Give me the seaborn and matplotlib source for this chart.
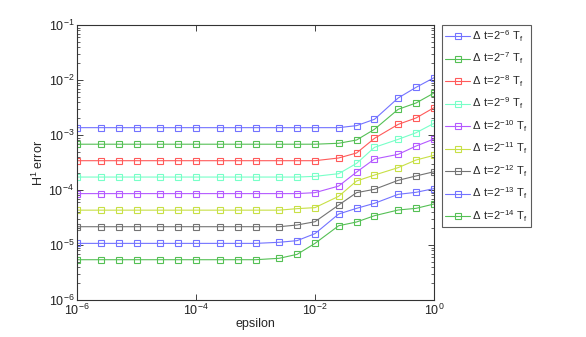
import matplotlib
matplotlib.use('Agg')
import matplotlib.pyplot as plt
import seaborn as sns
import numpy as np
import pandas as pd

# epsilon values (x axis)
eps = [1e-6, 2.5e-6, 5e-6, 1e-5, 2.5e-5, 5e-5, 1e-4, 2.5e-4, 5e-4,
       1e-3, 2.5e-3, 5e-3, 1e-2, 2.5e-2, 5e-2, 1e-1, 2.5e-1, 5e-1, 1.0]

# H1 error for each time step
err_m6 = [1.36e-3, 1.36e-3, 1.36e-3, 1.36e-3, 1.36e-3, 1.36e-3, 1.36e-3, 1.36e-3, 1.36e-3,
          1.36e-3, 1.36e-3, 1.36e-3, 1.36e-3, 1.36e-3, 1.48e-3, 1.93e-3, 4.71e-3, 7.36e-3, 1.10e-2]
err_m7 = [6.8e-4, 6.8e-4, 6.8e-4, 6.8e-4, 6.8e-4, 6.8e-4, 6.8e-4, 6.8e-4, 6.8e-4,
          6.8e-4, 6.8e-4, 6.8e-4, 6.8e-4, 7.07e-4, 8.11e-4, 1.27e-3, 2.93e-3, 3.82e-3, 5.8e-3]
err_m8 = [3.41e-4, 3.41e-4, 3.41e-4, 3.41e-4, 3.41e-4, 3.41e-4, 3.41e-4, 3.41e-4, 3.41e-4,
          3.41e-4, 3.41e-4, 3.41e-4, 3.41e-4, 3.82e-4, 4.71e-4, 8.7e-4, 1.56e-3, 2.04e-3, 3.14e-3]
err_m9 = [1.72e-4, 1.72e-4, 1.72e-4, 1.72e-4, 1.72e-4, 1.72e-4, 1.72e-4, 1.72e-4, 1.72e-4,
          1.72e-4, 1.72e-4, 1.72e-4, 1.77e-4, 1.98e-4, 3.05e-4, 5.97e-4, 8.34e-4, 1.10e-3, 1.63e-3]
err_m10 = [8.6e-5, 8.6e-5, 8.6e-5, 8.6e-5, 8.6e-5, 8.6e-5, 8.6e-5, 8.6e-5, 8.6e-5,
           8.6e-5, 8.6e-5, 8.6e-5, 8.95e-5, 1.18e-4, 2.12e-4, 3.66e-4, 4.45e-4, 6.3e-4, 8.46e-4]
err_m11 = [4.3e-5, 4.3e-5, 4.3e-5, 4.3e-5, 4.3e-5, 4.3e-5, 4.3e-5, 4.3e-5, 4.3e-5,
           4.3e-5, 4.3e-5, 4.58e-5, 4.78e-5, 7.68e-5, 1.46e-4, 1.87e-4, 2.55e-4, 3.51e-4, 4.27e-4]
err_m12 = [2.15e-5, 2.15e-5, 2.15e-5, 2.15e-5, 2.15e-5, 2.15e-5, 2.15e-5, 2.15e-5, 2.15e-5,
           2.15e-5, 2.15e-5, 2.31e-5, 2.65e-5, 5.33e-5, 8.95e-5, 1.03e-4, 1.50e-4, 1.80e-4, 2.15e-4]
err_m13 = [1.07e-5, 1.07e-5, 1.07e-5, 1.07e-5, 1.07e-5, 1.07e-5, 1.07e-5, 1.07e-5, 1.07e-5,
           1.07e-5, 1.12e-5, 1.2e-5, 1.61e-5, 3.66e-5, 4.64e-5, 5.73e-5, 8.34e-5, 9.08e-5, 1.06e-4]
err_m14 = [5.4e-6, 5.4e-6, 5.4e-6, 5.4e-6, 5.4e-6, 5.4e-6, 5.4e-6, 5.4e-6, 5.4e-6,
           5.4e-6, 5.73e-6, 6.76e-6, 1.07e-5, 2.24e-5, 2.62e-5, 3.41e-5, 4.33e-5, 4.64e-5, 5.56e-5]

exponents = [6, 7, 8, 9, 10, 11, 12, 13, 14]
series = [err_m6, err_m7, err_m8, err_m9, err_m10, err_m11, err_m12, err_m13, err_m14]
colors = ['#7373ff', '#55c055', '#ff5a5a', '#78ffc8', '#b45aff',
          '#c8e046', '#737373', '#7373ff', '#55c055']

sns.set_style('ticks')
plt.rcParams['font.family'] = ['Liberation Sans', 'DejaVu Sans']
plt.rcParams['mathtext.default'] = 'regular'
plt.rcParams['xtick.direction'] = 'in'
plt.rcParams['ytick.direction'] = 'in'

fig = plt.figure(figsize=(5.86, 3.37), dpi=100)
ax = fig.add_axes([77 / 586, 37 / 337, 357 / 586, 275 / 337])

for exp, vals, col in zip(exponents, series, colors):
    df = pd.DataFrame({'epsilon': eps, 'err': vals})
    sns.lineplot(data=df, x='epsilon', y='err', ax=ax, color=col,
                 marker='s', markersize=4, markerfacecolor='none',
                 markeredgecolor=col, markeredgewidth=0.8, linewidth=0.8,
                 label=r'$\Delta\ t\!=\!2^{-%d}\ T_f$' % exp)

ax.set_xscale('log')
ax.set_yscale('log')
ax.set_xlim(1e-6, 1)
ax.set_ylim(1e-6, 1e-1)
ax.set_xticks([1e-6, 1e-4, 1e-2, 1])
ax.xaxis.set_minor_locator(matplotlib.ticker.NullLocator())
ax.tick_params(which='both', top=True, right=True, labelsize=9, colors='#222222')
ax.tick_params(axis='x', pad=2)
ax.tick_params(axis='y', pad=2)
ax.tick_params(which='major', length=4, width=0.6)
ax.tick_params(which='minor', length=2, width=0.5)
for sp in ax.spines.values():
    sp.set_linewidth(0.8)
    sp.set_color('#333333')

ax.set_xlabel('epsilon', fontsize=9, labelpad=0)
ax.set_ylabel(r'$H^1$ error', fontsize=9, labelpad=2)

handles, labels = ax.get_legend_handles_labels()
ax.get_legend().remove()
leg = fig.legend(handles, labels, loc='upper left',
                 bbox_to_anchor=(442 / 586, 1 - 25 / 337),
                 fontsize=8, frameon=True, fancybox=False,
                 handlelength=2.2, handletextpad=0.2, labelspacing=0.62,
                 borderpad=0.3, borderaxespad=0)
leg.get_frame().set_edgecolor('#333333')
leg.get_frame().set_linewidth(0.8)

fig.savefig('out.png', dpi=100)
